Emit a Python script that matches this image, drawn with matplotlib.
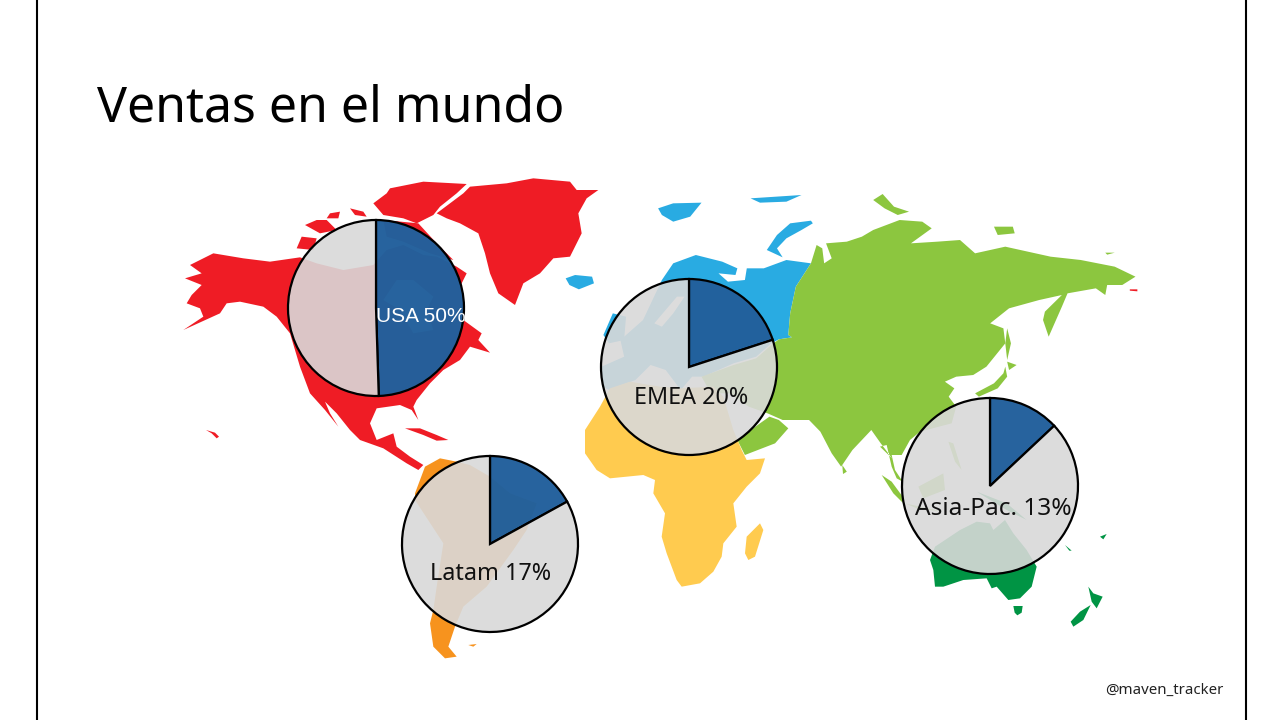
import matplotlib
matplotlib.use('Agg')
import matplotlib.pyplot as plt
from matplotlib.colors import to_rgba
from matplotlib.patches import Polygon

# Datos de las tortas
regiones = ['USA 50%', 'EMEA 20%', 'Latam 17%', 'Asia-Pac. 13%']
ventas = [49.5, 20, 17, 13]
resto = [50.5, 80, 83, 87]

titulo = 'Ventas en el mundo'
firma = '@maven_tracker'


def z(puntos, x0, y0, kx=3.0, ky=3.0):
    return [(x0 + x / kx, 720 - (y0 + y / ky)) for x, y in puntos]


def z1(puntos):
    return z(puntos, 170, 170)


def z2(puntos):
    return z(puntos, 560, 180, kx=2.65)


def z3(puntos):
    return z(puntos, 380, 390)


def z4(puntos):
    return z(puntos, 880, 390)


# Contornos del mapa de fondo
rojo = [
    z1([(60, 285), (130, 250), (220, 265), (300, 275), (390, 262), (440, 280), (520, 300), (610, 285), (650, 240),
        (700, 225), (760, 255), (800, 260), (860, 290), (890, 310), (870, 350), (885, 420), (880, 450), (935, 490),
        (925, 510), (960, 548), (900, 530), (870, 570), (820, 600), (780, 640), (740, 690), (730, 710), (745, 750),
        (725, 720), (690, 705), (620, 715), (600, 760), (620, 810), (670, 790), (680, 830), (720, 860), (760, 885),
        (745, 900), (710, 880), (640, 835), (570, 810), (540, 780), (500, 730), (465, 695), (480, 730), (505, 770),
        (465, 720), (420, 670), (390, 590), (360, 490), (320, 440), (280, 410), (210, 395), (170, 400), (150, 430),
        (40, 480), (100, 440), (90, 415), (50, 400), (65, 375), (95, 345), (45, 325), (95, 310)]),
    z1([(610, 100), (650, 70), (660, 55), (760, 35), (890, 42), (860, 70), (810, 110), (790, 135), (740, 160),
        (700, 145), (640, 135)]),
    z1([(640, 150), (745, 160), (800, 220), (850, 270), (780, 250), (700, 215), (650, 200)]),
    z1([(405, 165), (440, 150), (470, 150), (500, 180), (450, 190)]),
    z1([(380, 235), (395, 200), (440, 205), (430, 240)]),
    z1([(480, 130), (510, 125), (505, 145), (470, 145)]),
    z1([(540, 115), (580, 125), (590, 140), (555, 135)]),
    z1([(800, 130), (880, 70), (900, 50), (1010, 40), (1090, 25), (1200, 35), (1220, 60), (1285, 60), (1250, 85),
        (1225, 130), (1235, 190), (1200, 260), (1150, 265), (1110, 310), (1060, 340), (1035, 405), (985, 370),
        (960, 310), (945, 250), (925, 190), (870, 160), (830, 145)]),
    z1([(705, 775), (750, 775), (800, 795), (835, 810), (800, 812), (760, 795)]),
    z1([(108, 780), (135, 788), (147, 800), (140, 805), (125, 790)]),
    z2([(1510, 328), (1530, 328), (1530, 334), (1510, 332)]),
]
azul = [
    z2([(270, 300), (300, 250), (360, 225), (430, 245), (470, 265), (465, 285), (420, 280), (445, 305), (490, 300),
        (495, 265), (540, 265), (600, 240), (665, 250), (625, 320), (610, 400), (605, 465), (615, 472), (580, 478),
        (560, 490), (520, 530), (460, 550), (380, 590), (350, 590), (320, 630), (280, 570), (240, 555), (200, 600),
        (130, 630), (112, 620), (110, 560), (170, 530), (160, 480), (220, 420)]),
    z2([(115, 465), (140, 400), (175, 410), (170, 480), (130, 490)]),
    z2([(15, 295), (40, 285), (85, 290), (90, 310), (50, 328), (25, 315)]),
    z2([(260, 85), (300, 70), (375, 68), (345, 110), (300, 125), (270, 105)]),
    z2([(505, 55), (640, 45), (600, 65), (530, 68)]),
    z2([(665, 122), (610, 130), (575, 165), (548, 210), (590, 232), (575, 205), (600, 175), (640, 150), (670, 130)]),
]
verde = [
    z2([(665, 250), (680, 195), (695, 205), (700, 250), (720, 235), (705, 190), (760, 185), (800, 170), (830, 150),
        (900, 120), (960, 125), (985, 145), (930, 190), (1000, 185), (1060, 180), (1100, 220), (1180, 200),
        (1300, 230), (1380, 240), (1470, 260), (1525, 290), (1490, 315), (1450, 315), (1445, 345), (1420, 325),
        (1345, 340), (1330, 380), (1295, 470), (1280, 420), (1285, 395), (1330, 345), (1270, 360), (1190, 385),
        (1140, 430), (1175, 445), (1180, 490), (1130, 560), (1095, 585), (1050, 590), (1020, 605), (1045, 625),
        (1030, 650), (1050, 680)])
    + z4([(215, 100), (120, 125), (90, 150), (65, 195), (35, 195), (45, 240), (68, 275), (50, 265), (35, 230),
          (20, 165), (0, 170)])
    + z2([(880, 835), (850, 790), (825, 750), (775, 810), (745, 860), (720, 820), (690, 755), (660, 720), (590, 720),
          (550, 700), (500, 680), (450, 640), (400, 640), (375, 590), (460, 555), (520, 535), (560, 495), (580, 478),
          (615, 472), (605, 465), (610, 400), (625, 320)]),
    z2([(555, 710), (580, 720), (605, 745), (570, 790), (490, 825), (470, 780), (530, 730)]),
    z2([(1185, 445), (1195, 490), (1185, 540), (1180, 490)]),
    z2([(1180, 560), (1185, 590), (1160, 625), (1110, 650), (1100, 640), (1150, 610), (1175, 580)]),
    z2([(1185, 545), (1210, 555), (1190, 570)]),
    z2([(830, 60), (855, 42), (885, 80), (925, 95), (895, 105), (860, 85)]),
    z2([(1150, 140), (1200, 140), (1205, 160), (1160, 165)]),
    z2([(1445, 218), (1470, 218), (1450, 224)]),
    z2([(748, 855), (760, 875), (750, 882)]),
    z4([(5, 255), (35, 275), (68, 320), (68, 338), (40, 310)]),
    z4([(115, 290), (190, 250), (195, 300), (130, 325)]),
    z4([(205, 155), (220, 160), (245, 240), (225, 215)]),
    z4([(75, 340), (190, 365), (110, 355)]),
]
amarillo = [
    z3([(615, 120), (660, 50), (690, -5), (750, -25), (840, -10), (900, -5), (1000, -10), (1030, 20), (1060, 120),
        (1085, 180), (1100, 210), (1155, 205), (1140, 250), (1100, 290), (1060, 340), (1070, 410), (1030, 460),
        (1025, 500), (1000, 545), (960, 580), (905, 590), (890, 570), (860, 490), (845, 440), (855, 370), (820, 310),
        (825, 270), (790, 255), (740, 260), (690, 265), (650, 240), (615, 190)]),
    z3([(1140, 400), (1150, 420), (1125, 500), (1105, 510), (1095, 490), (1100, 440)]),
]
naranja = [
    z3([(135, 230), (180, 205), (230, 215), (270, 225), (330, 260), (390, 310), (470, 340), (440, 420), (400, 480),
        (320, 590), (250, 650), (225, 710), (205, 770), (230, 800), (195, 805), (160, 770), (150, 700), (160, 660),
        (170, 590), (190, 460), (105, 330), (105, 310)]),
    z3([(265, 765), (290, 762), (280, 770)]),
]
oceania = [
    z4([(150, 510), (165, 470), (240, 420), (290, 395), (330, 400), (340, 420), (375, 390), (400, 430), (440, 480),
        (470, 530), (455, 590), (420, 625), (385, 630), (350, 590), (335, 595), (320, 565), (250, 570), (190, 590),
        (165, 590), (160, 540)]),
    z4([(400, 648), (428, 648), (425, 668), (412, 676), (404, 668)]),
    z4([(625, 590), (640, 610), (668, 620), (650, 655), (635, 635)]),
    z4([(632, 645), (610, 690), (580, 710), (572, 695), (600, 665)]),
    z4([(555, 465), (575, 482), (568, 482)]),
    z4([(660, 440), (680, 432), (670, 448)]),
    z4([(290, 305), (380, 340), (440, 390), (380, 360)]),
]
# bahia de Hudson y Baltico, van encima del color
blanco = [
    z1([(680, 330), (730, 330), (790, 380), (770, 420), (790, 480), (730, 490), (690, 420), (640, 390)]),
    z2([(250, 430), (280, 390), (310, 350), (330, 350), (300, 400), (270, 440)]),
]

fig = plt.figure(figsize=(12.8, 7.2), dpi=100)
ax = fig.add_axes([0, 0, 1, 1])

for grupo, color in [(rojo, '#EF1C25'), (azul, '#29ABE2'), (verde, '#8CC63F'), (amarillo, '#FFCB4F'),
                     (naranja, '#F7931E'), (oceania, '#009444'), (blanco, 'white')]:
    for puntos in grupo:
        ax.add_patch(Polygon(puntos, closed=True, facecolor=color, edgecolor='none', zorder=1))

# Tortas
centros = [(376, 412), (689, 353), (490, 176), (990, 234)]
colores = [to_rgba('#22609C', 0.98), to_rgba('#D9D9D9', 0.9)]
for i in range(4):
    ax.pie([ventas[i], resto[i]], colors=colores, center=centros[i], radius=88, startangle=90, counterclock=False,
           wedgeprops={'edgecolor': 'black', 'linewidth': 1.6, 'zorder': 3})

# las etiquetas
ax.text(420.5, 403, regiones[0], color='white', fontsize=15, ha='center', va='center', family='Liberation Sans', zorder=4)
ax.text(691.5, 322, regiones[1], color='#111111', fontsize=16.8, ha='center', va='center', family='Noto Sans', zorder=4)
ax.text(491, 146, regiones[2], color='#111111', fontsize=16.8, ha='center', va='center', family='Noto Sans', zorder=4)
ax.text(993, 211, regiones[3], color='#111111', fontsize=17.6, ha='center', va='center', family='Noto Sans', zorder=4)

ax.text(97, 611, titulo, color='black', fontsize=36, ha='left', va='center', family='Noto Sans')
ax.text(1223, 30, firma, color='#222222', fontsize=10.8, ha='right', va='center', family='Noto Sans')

# marco lateral
ax.axvline(37, color='black', linewidth=1.5)
ax.axvline(1246, color='black', linewidth=1.5)

ax.set_xlim(0, 1280)
ax.set_ylim(0, 720)
ax.set_aspect('equal')
ax.axis('off')

plt.savefig('out.png', dpi=100)
plt.close()
